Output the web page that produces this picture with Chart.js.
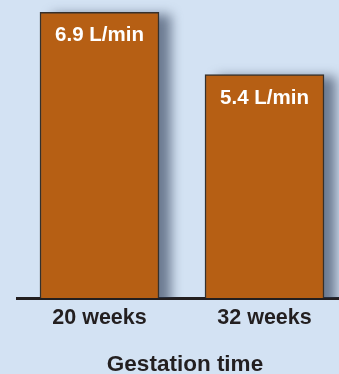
<!DOCTYPE html>
<html>
<head>
<meta charset="utf-8">
<script src="https://cdn.jsdelivr.net/npm/chart.js@4"></script>
<style>
  html, body { margin: 0; padding: 0; background: #d3e2f3; }
  #wrap { position: relative; width: 339px; height: 374px; }
  #title {
    position: absolute; left: 70px; width: 230px; top: 351px;
    text-align: center; line-height: 24px;
    font: bold 22.5px "Liberation Sans", Arial, sans-serif;
    color: #231f20;
  }
</style>
</head>
<body>
<div id="wrap">
  <canvas id="myChart" width="339" height="374"></canvas>
  <div id="title">Gestation time</div>
</div>
<script>
const categories = ["20 weeks", "32 weeks"];
const flowValues = [6.9, 5.4];
const valueLabels = ["6.9 L/min", "5.4 L/min"];

const labelFont = "'Liberation Sans', Arial, sans-serif";

// soft shadow to the right of each bar, drawn from the bar elements
const shadowPlugin = {
  id: "barShadow",
  beforeDatasetsDraw(chart) {
    const ctx = chart.ctx;
    const area = chart.chartArea;
    const meta = chart.getDatasetMeta(0);
    ctx.save();
    ctx.beginPath();
    ctx.rect(area.left, area.top - 20, area.right - area.left, area.bottom - area.top + 20);
    ctx.clip();
    ctx.filter = "blur(6px)";
    ctx.fillStyle = "rgba(45, 60, 85, 0.62)";
    meta.data.forEach((bar) => {
      const w = bar.width;
      ctx.fillRect(bar.x - w / 2 + 12, bar.y + 2, w, bar.base - bar.y + 20);
    });
    ctx.restore();
  },
};

// white value text at the top of each bar
const valuePlugin = {
  id: "valueText",
  afterDatasetsDraw(chart) {
    const ctx = chart.ctx;
    const meta = chart.getDatasetMeta(0);
    ctx.save();
    ctx.fillStyle = "#ffffff";
    ctx.font = "bold 20.5px " + labelFont;
    ctx.textAlign = "center";
    ctx.textBaseline = "alphabetic";
    meta.data.forEach((bar, i) => {
      ctx.fillText(valueLabels[i], bar.x, bar.y + 29);
    });
    ctx.restore();
  },
};

new Chart("myChart", {
  type: "bar",
  data: {
    datasets: [
      {
        data: flowValues.map((v, i) => ({ x: i, y: v })),
        backgroundColor: "#b65f14",
        borderColor: "#35302c",
        borderWidth: 1.5,
        barThickness: 119,
      },
    ],
  },
  options: {
    responsive: false,
    animation: false,
    layout: { padding: { left: 17, right: 0, top: 0, bottom: 0 } },
    plugins: { legend: { display: false }, tooltip: { enabled: false } },
    scales: {
      x: {
        type: "linear",
        offset: false,
        min: -0.5,
        max: 1.4515,
        z: 1,
        grid: { display: false, drawTicks: false },
        border: { display: true, color: "#231f20", width: 3 },
        afterBuildTicks: (scale) => {
          scale.ticks = categories.map((c, i) => ({ value: i }));
        },
        afterFit: (scale) => {
          scale.height = 76;
        },
        ticks: {
          padding: 7,
          color: "#231f20",
          font: { family: labelFont, size: 21.5, weight: "bold" },
          callback: (value) => categories[value],
        },
      },
      y: {
        display: false,
        min: 0,
        max: 7.2,
      },
    },
  },
  plugins: [shadowPlugin, valuePlugin],
});
</script>
</body>
</html>
